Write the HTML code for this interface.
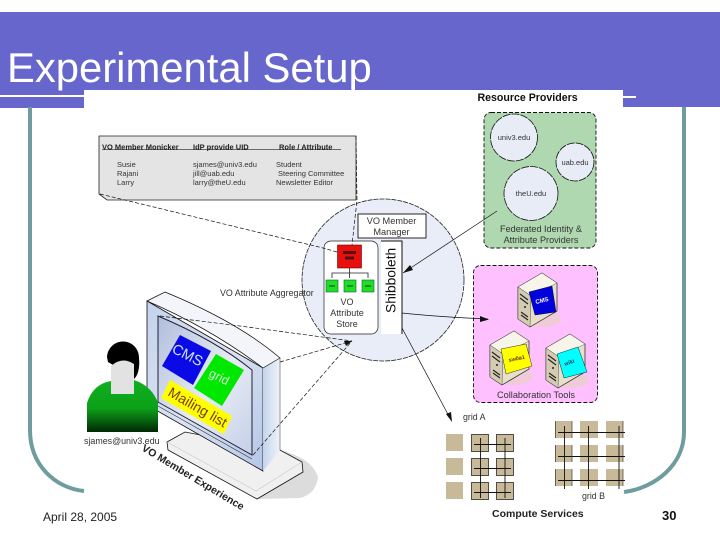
<!DOCTYPE html>
<html><head><meta charset="utf-8"><style>
html,body{margin:0;padding:0;background:#fff}
svg{display:block;font-family:"Liberation Sans",sans-serif}
</style></head><body>
<svg width="720" height="540" viewBox="0 0 720 540" xmlns="http://www.w3.org/2000/svg">
<defs>
<linearGradient id="g1" x1="0" y1="0" x2="0" y2="1"><stop offset="0" stop-color="#10b020"/><stop offset=".55" stop-color="#0ca018"/><stop offset="1" stop-color="#012804"/></linearGradient>
<linearGradient id="mon" x1="0" y1="0" x2="1" y2="1"><stop offset="0" stop-color="#c4d2ec"/><stop offset=".5" stop-color="#dbe3f2"/><stop offset="1" stop-color="#b4c6e6"/></linearGradient>
<linearGradient id="scr" x1="0" y1="0" x2="1" y2="1"><stop offset="0" stop-color="#b0bedc"/><stop offset=".55" stop-color="#e8ecf5"/><stop offset="1" stop-color="#c4d0e8"/></linearGradient>
<linearGradient id="side" x1="0" y1="0" x2="1" y2="0"><stop offset="0" stop-color="#c4d4ec"/><stop offset="1" stop-color="#f0f3f9"/></linearGradient>
<g id="srv"><ellipse cx="24" cy="46" rx="19" ry="8" fill="#e8cfc8" opacity=".75"/><path d="M0 14 L24 0 L39 10 L39 38 L12 54 L0 46Z" fill="#e6dfca" stroke="#222" stroke-width=".7"/><path d="M0 14 L24 0 L39 10 L13 23Z" fill="#f7f4ea" stroke="#444" stroke-width=".4"/><path d="M0 14 L13 23 L12 54 L0 46Z" fill="#d3cbb2" stroke="#333" stroke-width=".4"/><path d="M2 21l8 6M2 25l8 6M3 39l7 5M3 42l7 5" stroke="#222" stroke-width="1.1"/><circle cx="7" cy="34" r="1" fill="#222"/></g>
</defs>
<rect width="720" height="540" fill="#fff"/>
<!-- header -->
<rect x="0" y="12" width="720" height="78" fill="#6666cc"/>
<rect x="623" y="90" width="97" height="17" fill="#6666cc"/>
<rect x="0" y="97" width="84" height="11" fill="#6666cc"/>
<rect x="0" y="90" width="84" height="5" fill="#6666cc"/>
<rect x="623" y="96" width="13" height="2" fill="#fff"/>
<text x="7" y="82" font-size="41.800" fill="#fff">Experimental Setup</text>
<!-- teal frame -->
<path d="M30 107 V430 C30 465 55 488 84 491" fill="none" stroke="#6f9c9e" stroke-width="4"/>
<path d="M684 107 V432 C684 465 655 488 624 492" fill="none" stroke="#6f9c9e" stroke-width="4"/>
<text x="477.500" y="101" font-size="10.600" font-weight="bold" fill="#111">Resource Providers</text>
<!-- table -->
<path d="M99 136 H356 V200 H107 L99 194Z" fill="#e4e4e4" stroke="#222" stroke-width=".8"/>
<g font-size="7.500" fill="#333">
<text x="102" y="149.500" font-weight="bold" fill="#222">VO Member Monicker</text>
<text x="193" y="149.500" font-weight="bold" fill="#222">IdP provide UID</text>
<text x="279" y="149.500" font-weight="bold" fill="#222">Role / Attribute</text>
<path d="M102 149.700 H341" stroke="#222" stroke-width=".7"/>
<text x="117" y="167">Susie</text><text x="193" y="167">sjames@univ3.edu</text><text x="276" y="167">Student</text>
<text x="117" y="176">Rajani</text><text x="193" y="176">jill@uab.edu</text><text x="278" y="176">Steering Committee</text>
<text x="117" y="185">Larry</text><text x="193" y="185">larry@theU.edu</text><text x="276" y="185">Newsletter Editor</text>
</g>
<!-- big circle -->
<circle cx="383" cy="280" r="81" fill="#e8edf7" stroke="#222" stroke-width=".8" stroke-dasharray="5 1"/>
<rect x="324" y="241" width="54" height="93" rx="7" fill="#fff" stroke="#222" stroke-width=".7"/>
<rect x="381" y="241" width="21" height="93" fill="#fff"/>
<path d="M381 241 H402 V334" fill="none" stroke="#111" stroke-width="1"/>
<text transform="translate(395.500,313) rotate(-90)" font-size="13.800" fill="#111">Shibboleth</text>
<rect x="358" y="214" width="68" height="24" fill="#fff" stroke="#111" stroke-width=".9"/>
<text x="391.500" y="224" font-size="9.200" text-anchor="middle" fill="#333">VO Member</text>
<text x="391.500" y="235" font-size="9.200" text-anchor="middle" fill="#333">Manager</text>
<!-- tree -->
<rect x="337.500" y="245" width="24" height="23" fill="#e8100c" stroke="#600" stroke-width=".6"/>
<path d="M343 252.500h13M345 258h9" stroke="#511" stroke-width="3"/>
<path d="M349.500 268 V273 M332 278 V273 H368 V278 M349.500 273 V278" fill="none" stroke="#222" stroke-width=".8"/>
<g fill="#22dd22" stroke="#064" stroke-width=".6"><rect x="326" y="280" width="12" height="12"/><rect x="344" y="280" width="12" height="12"/><rect x="362" y="280" width="12" height="12"/></g>
<path d="M329 286h6M347 286h6M365 286h6" stroke="#044" stroke-width="1"/>
<g font-size="9" text-anchor="middle" fill="#333"><text x="347" y="305">VO</text><text x="347" y="316">Attribute</text><text x="347" y="327">Store</text></g>
<text x="220" y="296" font-size="8.900" fill="#333">VO Attribute Aggregator</text>
<!-- green box -->
<rect x="484" y="112.500" width="112" height="135.500" rx="7" fill="#b0d8b0" stroke="#111" stroke-width=".9" stroke-dasharray="4 2"/>
<g fill="#e8ecf6" stroke="#111" stroke-width=".8" stroke-dasharray="8 1">
<circle cx="514" cy="137.500" r="23.500"/><circle cx="575" cy="162" r="19"/><circle cx="531" cy="193.500" r="27"/></g>
<g font-size="7.500" text-anchor="middle" fill="#333"><text x="514" y="140">univ3.edu</text><text x="575" y="165">uab.edu</text><text x="531" y="196">theU.edu</text></g>
<g font-size="9.100" text-anchor="middle" fill="#333"><text x="541" y="232">Federated Identity &amp;</text><text x="541" y="243">Attribute Providers</text></g>
<!-- pink box -->
<rect x="473.500" y="265.500" width="124" height="137" rx="7" fill="#ffc0ff" stroke="#111" stroke-width=".9" stroke-dasharray="4 2"/>
<use href="#srv" x="518" y="273"/><path d="M529 292 L552 286 L556 312 L535 315Z" fill="#0000dd" stroke="#113" stroke-width=".5"/><text transform="translate(536,304) rotate(-14)" font-size="6" font-weight="bold" fill="#fff">CMS</text>
<use href="#srv" x="490" y="331"/><path d="M501 349 L526 344 L532 366 L506 374Z" fill="#ffff00" stroke="#332" stroke-width=".5"/><text transform="translate(509,362) rotate(-12)" font-size="5.500" font-weight="bold" fill="#630">sw0a1</text>
<use href="#srv" x="546" y="334"/><path d="M557 354 L578 347 L587 372 L564 378Z" fill="#00ffff" stroke="#033" stroke-width=".5"/><text transform="translate(565,366) rotate(-20)" font-size="5.500" font-weight="bold" fill="#046">wiki</text>
<text x="536" y="398" font-size="9.200" text-anchor="middle" fill="#333">Collaboration Tools</text>
<!-- monitor stand + shadow -->
<path d="M280 450 Q312 458 318 477 Q316 494 300 498 L257 499Z" fill="#dcdcdc"/>
<path d="M167 442 L185 432 L280 450 L302 462 L303 472 L257 499 L168 450Z" fill="#f0f0f0" stroke="#111" stroke-width=".8"/>
<path d="M167 442 L256 491 L302 462" fill="none" stroke="#bbb" stroke-width=".5"/>
<!-- monitor -->
<path d="M147 301 L263 368 V471 L147 405Z" fill="url(#mon)" stroke="#111" stroke-width=".8"/>
<path d="M263 368 L280 358 V450 L263 471Z" fill="url(#side)"/>
<path d="M280 358 V450" stroke="#555" stroke-width=".6"/>
<path d="M147 301 L165 292 Q238 322 280 358 L263 368 Q210 328 147 301Z" fill="#f3f5fa" stroke="#111" stroke-width=".7"/>
<path d="M158 316 Q215 340 252 370 V455 L158 402Z" fill="url(#scr)" stroke="#223" stroke-width="1"/>
<path d="M158 406 L252 459" stroke="#334" stroke-width=".7"/>
<path d="M180 335 L211 351 L193 385 L162 366Z" fill="#0a0ae6"/>
<text transform="translate(171,352) rotate(27)" font-size="14.500" fill="#cfe0ff">CMS</text>
<path d="M216 354 L244 370 L222 406 L194 388Z" fill="#00e800"/>
<text transform="translate(208,376) rotate(27)" font-size="12.500" fill="#cfeecf">grid</text>
<path d="M170 380 L232 416 L224 434 L161 398Z" fill="#ffff00"/>
<text transform="translate(167,395) rotate(30)" font-size="14" fill="#7a3a10">Mailing list</text>
<!-- person -->
<path d="M107 357 A16 16 0 0 1 139 358 C140 368 138 376 133 380 L125 372 L108 362Z" fill="#000"/>
<path d="M111 366 Q122 356 134 364 V394 H111Z" fill="#e2e2e2"/>
<path d="M111 381 Q93 384 87 403 V432 H158 V403 Q152 386 134 380 V394 H111Z" fill="url(#g1)"/>
<text x="84" y="444" font-size="8.900" fill="#333">sjames@univ3.edu</text>
<text transform="translate(141,450) rotate(31)" font-size="10.500" font-weight="bold" fill="#222">VO Member Experience</text>
<!-- dashed connectors -->
<g fill="none" stroke="#111" stroke-width=".7" stroke-dasharray="4 2">
<path d="M100 194 L323 248 L337 252"/>
<path d="M356 136 L357 200 L352 245"/>
<path d="M160 316 L240 326 L352 341"/>
<path d="M280 362 L352 341"/>
<path d="M253 455 L352 341"/>
</g>
<g fill="none" stroke="#111" stroke-width=".7">
<path d="M497 211 L403 273"/>
<path d="M402 313 Q440 317 488 319"/>
<path d="M402 328 L451 420"/>
</g>
<path d="M403 273 L410 265 L413 270Z M489 319.500 L480 316 L480 322Z M452 422 L446 414 L451 412Z M352 341 L344 341 L346 346Z" fill="#111"/>
<!-- grid A -->
<text x="463" y="420" font-size="8.800" fill="#333">grid A</text>
<g fill="#c8b999"><rect x="446" y="434" width="17" height="17"/><rect x="446" y="458" width="17" height="17"/><rect x="446" y="482" width="17" height="17"/></g>
<g fill="#c8b999" stroke="#111" stroke-width=".7"><rect x="471.500" y="434.500" width="17" height="17"/><rect x="496.500" y="434.500" width="17" height="17"/><rect x="471.500" y="458.500" width="17" height="17"/><rect x="496.500" y="458.500" width="17" height="17"/><rect x="471.500" y="482.500" width="17" height="17"/><rect x="496.500" y="482.500" width="17" height="17"/></g>
<path d="M474 444.500h37M474 468.500h37M474 492.500h37M480.500 438v60M505 438v60" stroke="#111" stroke-width=".9" fill="none"/>
<!-- grid B -->
<g fill="#c8b999"><rect x="555" y="421" width="17" height="17"/><rect x="580" y="421" width="18" height="17"/><rect x="606" y="421" width="17" height="17"/><rect x="555" y="445" width="17" height="17"/><rect x="580" y="445" width="18" height="17"/><rect x="606" y="445" width="17" height="17"/><rect x="555" y="469" width="17" height="17"/><rect x="580" y="469" width="18" height="17"/><rect x="606" y="469" width="17" height="17"/></g>
<path d="M558 432.500h67M558 456.500h67M558 480.500h67M564.500 426v63M588.500 426v63M619 426v63" stroke="#111" stroke-width=".9" fill="none"/>
<path d="M555.500 421v17M555.500 445v17M555.500 469v17M572 421v17M572 445v17M572 469v17M623 421v17M623 445v17M623 469v17" stroke="#222" stroke-width=".6"/>
<text x="582" y="499" font-size="8.800" fill="#333">grid B</text>
<text x="492" y="517" font-size="10.500" font-weight="bold" fill="#222">Compute Services</text>
<!-- footer -->
<text x="43" y="521" font-size="12" fill="#222">April 28, 2005</text>
<text x="662" y="520" font-size="13" font-weight="bold" fill="#111">30</text>
</svg>
</body></html>
